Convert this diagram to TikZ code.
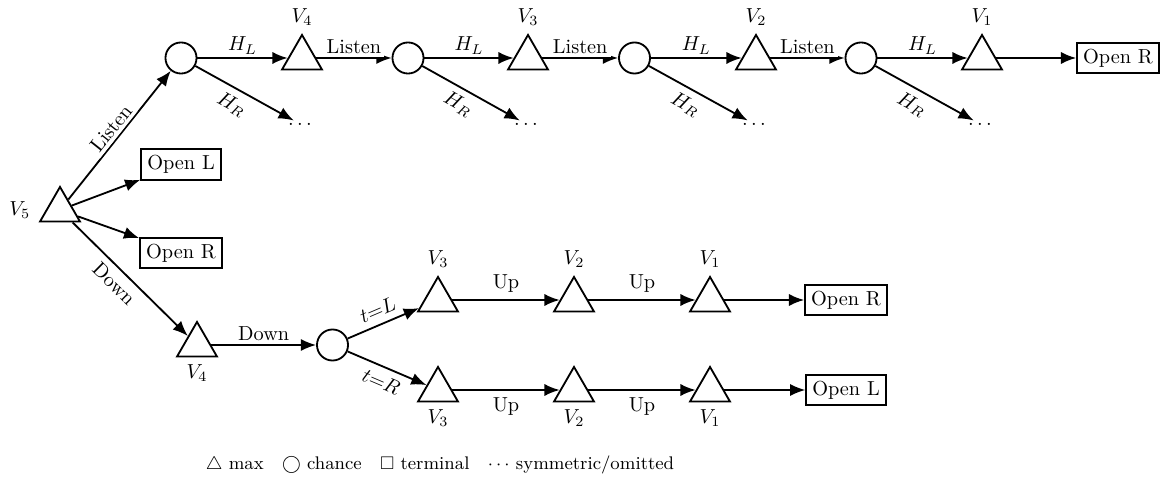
\documentclass[tikz,border=0pt]{standalone}
\usepackage{amssymb}
\usetikzlibrary{shapes.geometric,arrows.meta}
\begin{document}
\begin{tikzpicture}[x=0.4926pt,y=-0.4926pt,
 maxn/.style={draw,line width=0.9pt,regular polygon,regular polygon sides=3,minimum size=22.7pt,inner sep=0pt},
 chn/.style={draw,line width=0.9pt,circle,minimum size=15.3pt,inner sep=0pt},
 term/.style={draw,line width=0.9pt,rectangle,inner sep=3pt},
 omit/.style={inner sep=1pt},
 edge/.style={line width=0.9pt,-{Latex[length=7.5pt,width=6pt]}},
 lab/.style={fill=white,inner sep=1.5pt}]
\useasboundingbox (0,0) rectangle (1165,480);
% top row
\node[maxn,label={[label distance=4pt]left:$V_5$}] (v5) at (60,210) {};
\node[chn] (c1) at (181,58) {};
\node[maxn,label=above:$V_4$] (t4) at (302,58) {};
\node[omit] (d1) at (300,124) {$\dots$};
\node[chn] (c2) at (408,58) {};
\node[maxn,label=above:$V_3$] (t3) at (528,58) {};
\node[omit] (d2) at (526,124) {$\dots$};
\node[chn] (c3) at (634.5,58) {};
\node[maxn,label=above:$V_2$] (t2) at (756,58) {};
\node[omit] (d3) at (754,124) {$\dots$};
\node[chn] (c4) at (861,58) {};
\node[maxn,label=above:$V_1$] (t1) at (982,58) {};
\node[omit] (d4) at (980,124) {$\dots$};
\node[term] (or1) at (1118,58) {Open R};
% middle
\node[term] (ol1) at (181,164.5) {Open L};
\node[term] (or2) at (181,253) {Open R};
% bottom
\node[maxn,label=below:$V_4$] (t4b) at (197,345) {};
\node[chn] (cb) at (332.5,345) {};
\node[maxn,label=above:$V_3$] (t3u) at (438,300) {};
\node[maxn,label=above:$V_2$] (t2u) at (574,300) {};
\node[maxn,label=above:$V_1$] (t1u) at (710,300) {};
\node[term] (or3) at (846,300) {Open R};
\node[maxn,label=below:$V_3$] (t3l) at (438,390) {};
\node[maxn,label=below:$V_2$] (t2l) at (574,390) {};
\node[maxn,label=below:$V_1$] (t1l) at (710,390) {};
\node[term] (ol3) at (846,390) {Open L};
% edges from root
\draw[edge] (v5) -- node[lab,sloped,above]{Listen} (c1);
\draw[edge] (v5) -- (ol1);
\draw[edge] (v5) -- (or2);
\draw[edge] (v5) -- node[sloped,below,pos=0.45]{Down} (t4b);
% top chain
\draw[edge] (c1) -- node[lab,above]{$H_L$} (t4);
\draw[edge] (c1) -- node[sloped,below,pos=0.45]{$H_R$} (d1);
\draw[edge] (t4) -- node[lab,above]{Listen} (c2);
\draw[edge] (c2) -- node[lab,above]{$H_L$} (t3);
\draw[edge] (c2) -- node[sloped,below,pos=0.45]{$H_R$} (d2);
\draw[edge] (t3) -- node[lab,above]{Listen} (c3);
\draw[edge] (c3) -- node[lab,above]{$H_L$} (t2);
\draw[edge] (c3) -- node[sloped,below,pos=0.45]{$H_R$} (d3);
\draw[edge] (t2) -- node[lab,above]{Listen} (c4);
\draw[edge] (c4) -- node[lab,above]{$H_L$} (t1);
\draw[edge] (c4) -- node[sloped,below,pos=0.45]{$H_R$} (d4);
\draw[edge] (t1) -- (or1);
% bottom chain
\draw[edge] (t4b) -- node[lab,above]{Down} (cb);
\draw[edge] (cb) -- node[sloped,above]{$t{=}L$} (t3u);
\draw[edge] (cb) -- node[sloped,below]{$t{=}R$} (t3l);
\draw[edge] (t3u) -- node[above]{Up} (t2u);
\draw[edge] (t2u) -- node[above]{Up} (t1u);
\draw[edge] (t1u) -- (or3);
\draw[edge] (t3l) -- node[below]{Up} (t2l);
\draw[edge] (t2l) -- node[below]{Up} (t1l);
\draw[edge] (t1l) -- (ol3);
% legend
\node[font=\small] (legend) at (440,465) {$\triangle$ max\quad $\bigcirc$ chance\quad $\square$ terminal\quad $\cdots$ symmetric/omitted};
\end{tikzpicture}
\end{document}
